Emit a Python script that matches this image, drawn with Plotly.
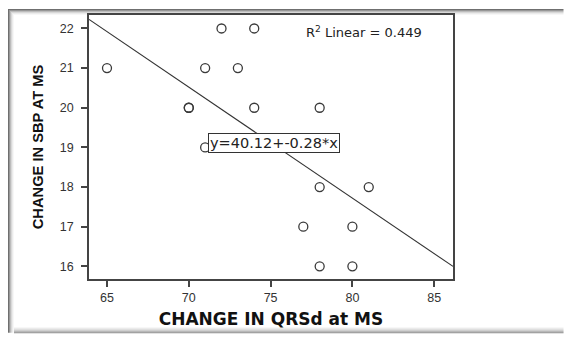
import plotly.graph_objects as go

# Data
qrsd_change = [65, 70, 70, 71, 71, 72, 73, 74, 74, 77, 78, 78, 78, 80, 80, 81]
sbp_change = [21, 20, 20, 21, 19, 22, 21, 22, 20, 17, 20, 18, 16, 17, 16, 18]
fit_intercept = 40.12
fit_slope = -0.28
r2_linear = 0.449
x_ticks = [65, 70, 75, 80, 85]
y_ticks = [16, 17, 18, 19, 20, 21, 22]
x_range = [63.9, 86.15]
y_range = [15.68, 22.34]

W, H = 564, 338
L, R, T, B = 89, 453, 15, 283  # plot area in pixels


def px(x):
    return (x - L) / (R - L)


def py(y):
    return (B - y) / (B - T)


fig = go.Figure()

fit_x = [x_range[0], x_range[1]]
fit_y = [fit_intercept + fit_slope * v for v in fit_x]
fig.add_trace(go.Scatter(x=fit_x, y=fit_y, mode="lines",
                         line=dict(color="#333333", width=1.1),
                         hoverinfo="skip", showlegend=False))

fig.add_trace(go.Scatter(x=qrsd_change, y=sbp_change, mode="markers",
                         marker=dict(symbol="circle-open", size=9, color="#3a3a3a",
                                     line=dict(width=1.3, color="#3a3a3a")),
                         showlegend=False))

arial = "Liberation Sans, Arial, sans-serif"
wide = "DejaVu Sans, Verdana, sans-serif"

shapes = []
# outer picture frame (gray shadowed border), drawn as thin filled rectangles
top_grays = ["#6f6f6f", "#979797", "#bcbcbc", "#d8d8d8", "#ebebeb", "#f7f7f7"]
for i, c in enumerate(top_grays):
    shapes.append(dict(type="rect", xref="paper", yref="paper",
                       x0=px(8 + i), x1=px(W - 0.5), y0=py(9 + i), y1=py(10 + i),
                       fillcolor=c, line=dict(width=0), layer="below"))
for i, c in enumerate(top_grays):
    shapes.append(dict(type="rect", xref="paper", yref="paper",
                       x0=px(8 + i), x1=px(9 + i), y0=py(9 + i), y1=py(H - 0.5),
                       fillcolor=c, line=dict(width=0), layer="below"))
bottom_grays = ["#f4f4f4", "#e6e6e6", "#d6d6d6", "#c2c2c2", "#a6a6a6", "#8a8a8a"]
for i, c in enumerate(bottom_grays):
    shapes.append(dict(type="rect", xref="paper", yref="paper",
                       x0=px(14), x1=px(W - 0.5), y0=py(332 + i), y1=py(333 + i),
                       fillcolor=c, line=dict(width=0), layer="below"))

fig.update_layout(
    width=W, height=H,
    margin=dict(l=L, r=W - R, t=T, b=H - B),
    paper_bgcolor="white", plot_bgcolor="white",
    font=dict(family=arial, color="#333333"),
    shapes=shapes,
    xaxis=dict(range=x_range, tickvals=x_ticks, ticks="outside", ticklen=6,
               tickwidth=1.5, tickcolor="#444444", showgrid=False, zeroline=False,
               showline=True, linecolor="#444444", linewidth=1.5, mirror=True,
               tickfont=dict(size=12.5, color="#333333"),
               title=dict(text="<b>CHANGE IN QRSd at MS</b>", standoff=9,
                          font=dict(family=wide, size=17, color="#111111"))),
    yaxis=dict(range=y_range, tickvals=y_ticks, ticks="outside", ticklen=6,
               tickwidth=1.5, tickcolor="#444444", showgrid=False, zeroline=False,
               showline=True, linecolor="#444444", linewidth=1.5, mirror=True,
               tickfont=dict(size=12.5, color="#333333"), ticklabelstandoff=5,
               title=dict(text="<b>CHANGE IN SBP AT MS</b>", standoff=13,
                          font=dict(size=14.7, color="#111111"))),
    annotations=[
        dict(xref="paper", yref="paper", x=px(424), y=py(32), xanchor="right",
             yanchor="middle", showarrow=False,
             text="R<sup>2</sup> Linear = %.3f" % r2_linear,
             font=dict(family=wide, size=13, color="#222222")),
        dict(xref="paper", yref="paper", x=px(207.5), y=py(145), xanchor="left",
             yanchor="middle", showarrow=False,
             text="y=%.2f+%.2f*x" % (fit_intercept, fit_slope),
             font=dict(family=wide, size=14.5, color="#222222"),
             bgcolor="white", bordercolor="#333333", borderwidth=1, borderpad=1),
    ],
)

fig.write_html("out.html",
               config={"displayModeBar": False},
               post_script="document.body.style.margin='0';"
                           "document.body.style.overflow='hidden';")
